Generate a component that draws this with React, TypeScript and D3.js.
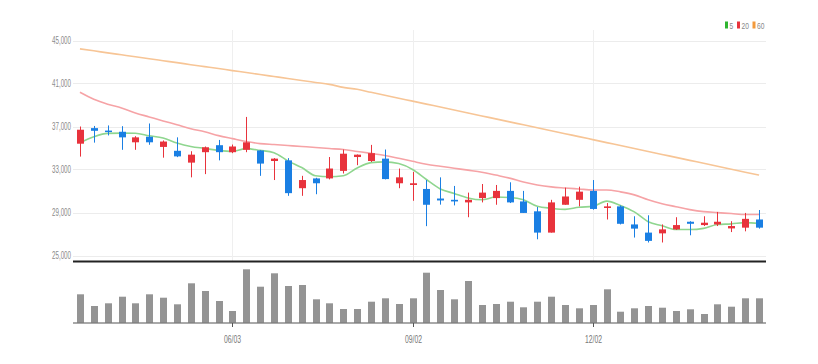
import React from "react";
import * as d3 from "d3";

const dates = [
  "03/18","03/25","04/01","04/08","04/15","04/22","04/29","05/06","05/13","05/20",
  "05/27","06/03","06/10","06/17","06/24","07/01","07/08","07/15","07/22","07/29",
  "08/05","08/12","08/19","08/26","09/02","09/09","09/16","09/23","09/30","10/07",
  "10/14","10/21","10/28","11/04","11/11","11/18","11/25","12/02","12/09","12/16",
  "12/23","12/30","01/06","01/13","01/20","01/27","02/03","02/10","02/17","02/24",
];
const opens = [
  35400,36850,36620,36510,35530,36050,35100,34740,33640,34610,
  35260,34610,34830,34770,33790,33850,31260,32170,32170,32870,
  34160,33790,34010,31720,31560,31190,30300,30180,29940,30340,
  30340,31010,30030,29110,27130,29720,30180,31010,29420,29570,
  27890,27130,27060,27430,28140,27830,27890,27520,27590,28350,
];
const highs = [
  37000,37050,37100,37030,36100,37280,35700,35990,34700,35140,
  35750,35320,37890,34800,34060,34060,32410,32230,34160,34860,
  34400,35290,34860,33090,32780,32020,32270,31470,30850,31650,
  31560,31810,31010,29510,30180,31310,31400,32020,29880,29660,
  28650,28740,27890,28560,28190,28650,29050,28190,28960,29230,
];
const lows = [
  34200,35500,36170,34830,34830,35300,34100,34150,32270,32570,
  33850,34520,34610,32410,32020,30550,30550,30700,32080,32630,
  33400,33700,32080,31260,30090,27730,29730,29660,28560,29940,
  29720,29880,28960,26510,27130,29720,29570,29260,28350,27890,
  26670,26210,26210,27370,26880,27740,27740,27180,27250,27500,
];
const closes = [
  36700,36600,36550,35990,35990,35530,35600,34220,34380,35070,
  34610,35140,35530,33550,34010,30800,32020,31720,33090,34470,
  34380,34520,32110,32270,31720,29720,30120,30030,30180,30850,
  31010,29940,28960,27130,29940,30490,30940,29330,29570,27950,
  27500,26360,27430,27830,27950,28050,28140,27740,28410,27590,
];
const volumes = [
  284000,167000,194000,260000,194000,284000,250000,184000,394000,317000,
  217000,117000,534000,360000,494000,367000,377000,234000,194000,137000,
  137000,210000,244000,187000,244000,500000,327000,234000,417000,177000,
  187000,210000,154000,210000,260000,177000,144000,177000,334000,110000,
  144000,167000,150000,117000,134000,87000,184000,160000,244000,244000,
];
// MA5 values for the first four weeks (need earlier history)
const ma5Lead = [35500, 36050, 36360, 36380];
const ma20 = [
  40180,39540,39080,38720,38260,37890,37520,37160,36790,36510,
  36150,35870,35600,35410,35320,35230,35140,35050,34950,34860,
  34680,34500,34310,34040,33760,33490,33300,33120,32940,32750,
  32480,32200,31830,31560,31380,31280,31190,31100,31100,30920,
  30640,30180,29820,29540,29270,29080,28990,28900,28810,28810,
];
const ma60 = [
  44220,44040,43850,43670,43490,43300,43120,42940,42750,42570,
  42390,42200,42020,41830,41650,41470,41280,41100,40920,40640,
  40460,40180,39910,39630,39360,39080,38810,38530,38260,37980,
  37710,37430,37160,36880,36610,36330,36060,35780,35500,35230,
  34950,34680,34400,34130,33850,33580,33300,33030,32750,32480,
];
const priceTicks = [25000, 29000, 33000, 37000, 41000, 45000];
const dateTicks = ["06/03", "09/02", "12/02"];
const legendLabels = ["5", "20", "60"];

const UP = "#e8333c";
const DOWN = "#1a7fe3";
const MA_COLORS = ["#8fd68f", "#f6a3a6", "#f7c596"];

const LEFT = 73;
const RIGHT = 766;

export default function App() {
  const x = d3.scaleBand<string>().domain(dates).range([LEFT, RIGHT]).padding(0);
  const bw = x.bandwidth();
  const cx = (i: number) => (x(dates[i]) as number) + bw / 2;
  const y = d3.scaleLinear().domain([25000, 45000]).range([255.5, 40.5]);
  const yv = d3.scaleLinear().domain([0, 560000]).range([322.7, 266.7]);

  const ma5 = closes.map((_, i) =>
    i < 4 ? ma5Lead[i] : d3.mean(closes.slice(i - 4, i + 1)) as number
  );

  const line = d3
    .line<number>()
    .x((_, i) => cx(i))
    .y((d) => y(d))
    .curve(d3.curveMonotoneX);

  const bodyW = 7;
  const font = "'Liberation Sans', Arial, sans-serif";

  return (
    <svg width={818} height={364} style={{ position: "absolute", left: 0, top: 0, background: "#fff" }}>
      {/* horizontal grid */}
      {priceTicks.map((t) => (
        <line key={t} x1={LEFT} x2={RIGHT} y1={Math.round(y(t)) + 0.5} y2={Math.round(y(t)) + 0.5} stroke="#ececec" strokeWidth={1} />
      ))}
      {/* vertical grid */}
      {dateTicks.map((d) => {
        const xi = Math.round(cx(dates.indexOf(d))) + 0.5;
        return <line key={d} x1={xi} x2={xi} y1={30} y2={261} stroke="#efefef" strokeWidth={1} />;
      })}
      {/* y labels */}
      {priceTicks.map((t) => (
        <text key={t} x={71} y={y(t)} dy="0.35em" textAnchor="end" fontSize={10.5} fill="#8a8a8a"
          fontFamily={font} textLength={19} lengthAdjust="spacingAndGlyphs">
          {d3.format(",")(t)}
        </text>
      ))}
      {/* MA lines */}
      <path d={line(ma60) as string} fill="none" stroke={MA_COLORS[2]} strokeWidth={1.6} />
      <path d={line(ma20) as string} fill="none" stroke={MA_COLORS[1]} strokeWidth={1.6} />
      <path d={line(ma5) as string} fill="none" stroke={MA_COLORS[0]} strokeWidth={1.6} />
      {/* candles */}
      {dates.map((d, i) => {
        const up = closes[i] >= opens[i];
        const c = up ? UP : DOWN;
        const xc = Math.round(cx(i)) + 0.5;
        const top = y(Math.max(opens[i], closes[i]));
        const bot = y(Math.min(opens[i], closes[i]));
        return (
          <g key={d}>
            <line x1={xc} x2={xc} y1={y(highs[i])} y2={y(lows[i])} stroke={c} strokeWidth={1} />
            <rect x={xc - bodyW / 2} y={top} width={bodyW} height={Math.max(1.5, bot - top)} fill={c} />
          </g>
        );
      })}
      {/* separator */}
      <line x1={LEFT} x2={RIGHT} y1={261.5} y2={261.5} stroke="#222" strokeWidth={2} />
      {/* volume */}
      {dates.map((d, i) => (
        <rect key={d} x={Math.round(cx(i)) + 0.5 - bodyW / 2} y={yv(volumes[i])} width={bodyW}
          height={yv(0) - yv(volumes[i])} fill="#949494" />
      ))}
      <line x1={LEFT} x2={RIGHT} y1={323} y2={323} stroke="#555" strokeWidth={1.2} />
      {dateTicks.map((d) => {
        const xi = Math.round(cx(dates.indexOf(d))) + 0.5;
        return (
          <g key={d}>
            <line x1={xi} x2={xi} y1={323} y2={327} stroke="#555" strokeWidth={1} />
            <text x={xi} y={343} textAnchor="middle" fontSize={10.5} fill="#777" fontFamily={font}
              textLength={17} lengthAdjust="spacingAndGlyphs">{d}</text>
          </g>
        );
      })}
      {/* legend */}
      {legendLabels.map((l, i) => {
        const lx = [725, 737, 752.5][i];
        return (
          <g key={l}>
            <rect x={lx} y={21.5} width={3} height={7} fill={["#2fb52f", "#e8333c", "#f39a3c"][i]} />
            <text x={lx + 4.5} y={28.5} fontSize={9} fill="#888" fontFamily={font}
              textLength={l.length * 3.7} lengthAdjust="spacingAndGlyphs">{l}</text>
          </g>
        );
      })}
    </svg>
  );
}
